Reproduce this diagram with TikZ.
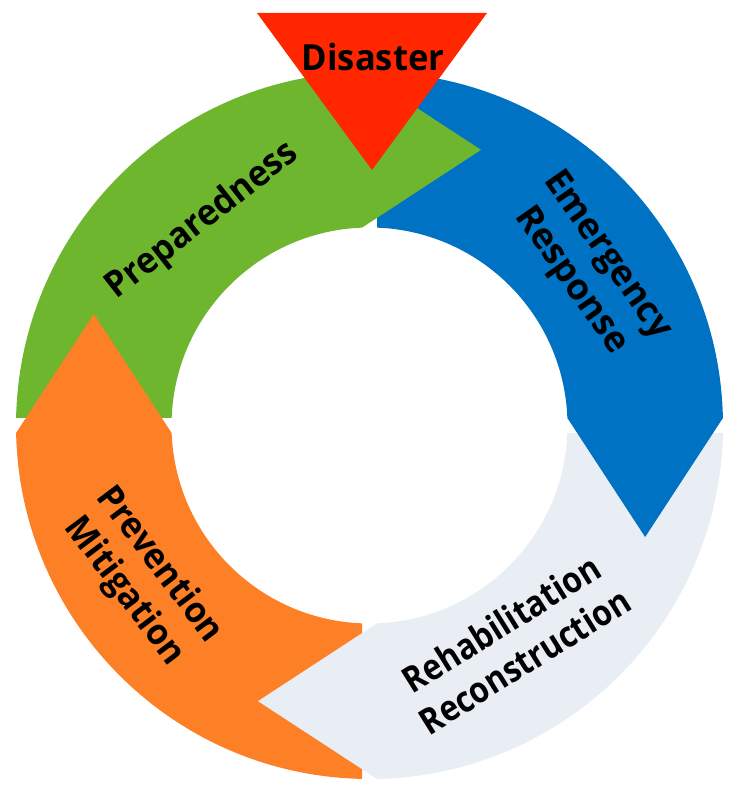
\documentclass[tikz,border=0pt]{standalone}
\usepackage{fontspec}
\setmainfont{Open Sans}
\definecolor{cgreen}{HTML}{6DB62E}
\definecolor{cblue}{HTML}{0072C4}
\definecolor{cgray}{HTML}{E8EEF4}
\definecolor{corange}{HTML}{FD8027}
\definecolor{cred}{HTML}{FF2600}
\tikzset{
  lbl/.style={font=\bfseries\fontsize{36}{44}\selectfont, text=black, align=center, inner sep=0pt},
}
% R=353.5, r=198, gap=7.5
\newcommand{\ringbody}[2]{%
  \begin{scope}[rotate=#1]
    \fill[#2] (178.7843:353.5) arc[start angle=178.7843, end angle=91.2157, radius=353.5]
      -- (92.171:198) arc[start angle=92.171, end angle=177.829, radius=198] -- cycle;
  \end{scope}}
\newcommand{\ringhead}[2]{%
  \begin{scope}[rotate=#1]
    \fill[#2] (-7.5,197.86) -- (-7.5,353.42) -- (111.5,275.64) -- cycle;
  \end{scope}}
\begin{document}
\begin{tikzpicture}[x=1pt,y=1pt]
\useasboundingbox (0,0) rectangle (739,794);
\begin{scope}[shift={(369.5,368.5)}]
  \ringbody{0}{cgreen}
  \ringbody{-90}{cblue}
  \ringbody{-180}{cgray}
  \ringbody{-270}{corange}
  \ringhead{0}{cgreen}
  \ringhead{-90}{cblue}
  \ringhead{-180}{cgray}
  \ringhead{-270}{corange}
\end{scope}
\fill[cred] (257,781) coordinate (tl) -- (487,781) coordinate (tr) -- (372,624) coordinate (tip) -- cycle;
\node[lbl, xscale=0.96] (dis) at (373,737) {Disaster};
\node[lbl, rotate=38, xscale=0.95] (prep) at (202.5,573) {Preparedness};
\node[lbl, rotate=-55] (emer) at (588.5,525.5) {Emergency\\Response};
\node[lbl, rotate=32, xscale=0.88] (reha) at (513,152) {Rehabilitation\\Reconstruction};
\node[lbl, rotate=-53, xscale=0.94] (prev) at (141.5,215.5) {Prevention\\Mitigation};
\end{tikzpicture}
\end{document}
